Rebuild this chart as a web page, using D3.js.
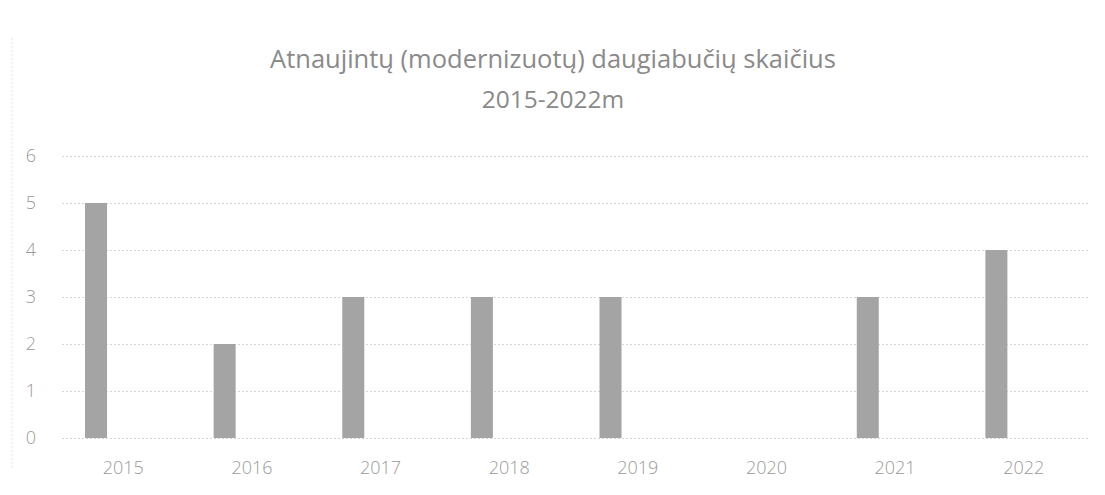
<!DOCTYPE html>
<html>
<head>
<meta charset="utf-8">
<script src="https://cdn.jsdelivr.net/npm/d3@7"></script>
<style>
  body { margin: 0; background: #fff; }
  text { font-family: "Open Sans", sans-serif; }
</style>
</head>
<body>
<div id="chart"></div>
<script>
// data
const years = ["2015", "2016", "2017", "2018", "2019", "2020", "2021", "2022"];
const counts = [5, 2, 3, 3, 3, 0, 3, 4];
const yTicks = [0, 1, 2, 3, 4, 5, 6];
const titleLines = ["Atnaujintų (modernizuotų) daugiabučių skaičius", "2015-2022m"];
const seriesSlots = ["s1", "s2", "s3"];

function makeChart() {
    let svgWidth = 1105;
    let svgHeight = 495;

    let svg = d3.select("#chart")
        .append("svg")
        .attr("width", svgWidth)
        .attr("height", svgHeight);

    // chart frame (left edge visible in scan)
    svg.append("line")
        .attr("x1", 12).attr("x2", 12)
        .attr("y1", 38).attr("y2", 470)
        .attr("stroke", "#e2e2e2")
        .attr("stroke-dasharray", "2,2");

    // title
    svg.append("g")
        .selectAll("text")
        .data(titleLines)
        .enter()
        .append("text")
        .attr("x", 553)
        .attr("y", (d, i) => 68 + i * 40)
        .attr("text-anchor", "middle")
        .attr("font-size", (d, i) => i == 0 ? 25.5 : 24.5)
        .attr("fill", "#8a8a8a")
        .text(d => d);

    let x = d3.scaleBand()
        .domain(years)
        .range([57, 1086]);

    let xInner = d3.scaleBand()
        .domain(seriesSlots)
        .range([0, x.bandwidth()])
        .paddingInner(0.13)
        .paddingOuter(1.107);

    let y = d3.scaleLinear()
        .domain([0, 6])
        .range([438, 156]);

    // gridlines
    let yAxis = d3.axisLeft(y)
        .tickValues(yTicks)
        .tickSize(-(1088 - 62))
        .tickFormat(d => d);

    let gy = svg.append("g")
        .attr("transform", "translate(62,0)")
        .call(yAxis);
    gy.select(".domain").remove();
    gy.selectAll(".tick line")
        .attr("stroke", "#d6d6d6")
        .attr("stroke-dasharray", "2,2");
    gy.selectAll(".tick text")
        .attr("x", -26)
        .attr("font-size", 18)
        .attr("font-weight", 300)
        .attr("fill", "#9a9a9a")
        .style("font-family", "Open Sans");

    // x axis labels
    let xAxis = d3.axisBottom(x).tickSize(0);
    let gx = svg.append("g")
        .attr("transform", "translate(2,458)")
        .call(xAxis);
    gx.select(".domain").remove();
    gx.selectAll(".tick text")
        .attr("font-size", 18)
        .attr("font-weight", 300)
        .attr("fill", "#9a9a9a")
        .style("font-family", "Open Sans");

    // bars
    svg.append("g")
        .selectAll("rect")
        .data(years.map((yr, i) => ({year: yr, value: counts[i]})))
        .enter()
        .append("rect")
        .attr("x", d => x(d.year) + xInner("s1"))
        .attr("y", d => y(d.value))
        .attr("width", xInner.bandwidth())
        .attr("height", d => y(0) - y(d.value))
        .attr("fill", "#a4a4a4");
}

makeChart();
</script>
</body>
</html>
